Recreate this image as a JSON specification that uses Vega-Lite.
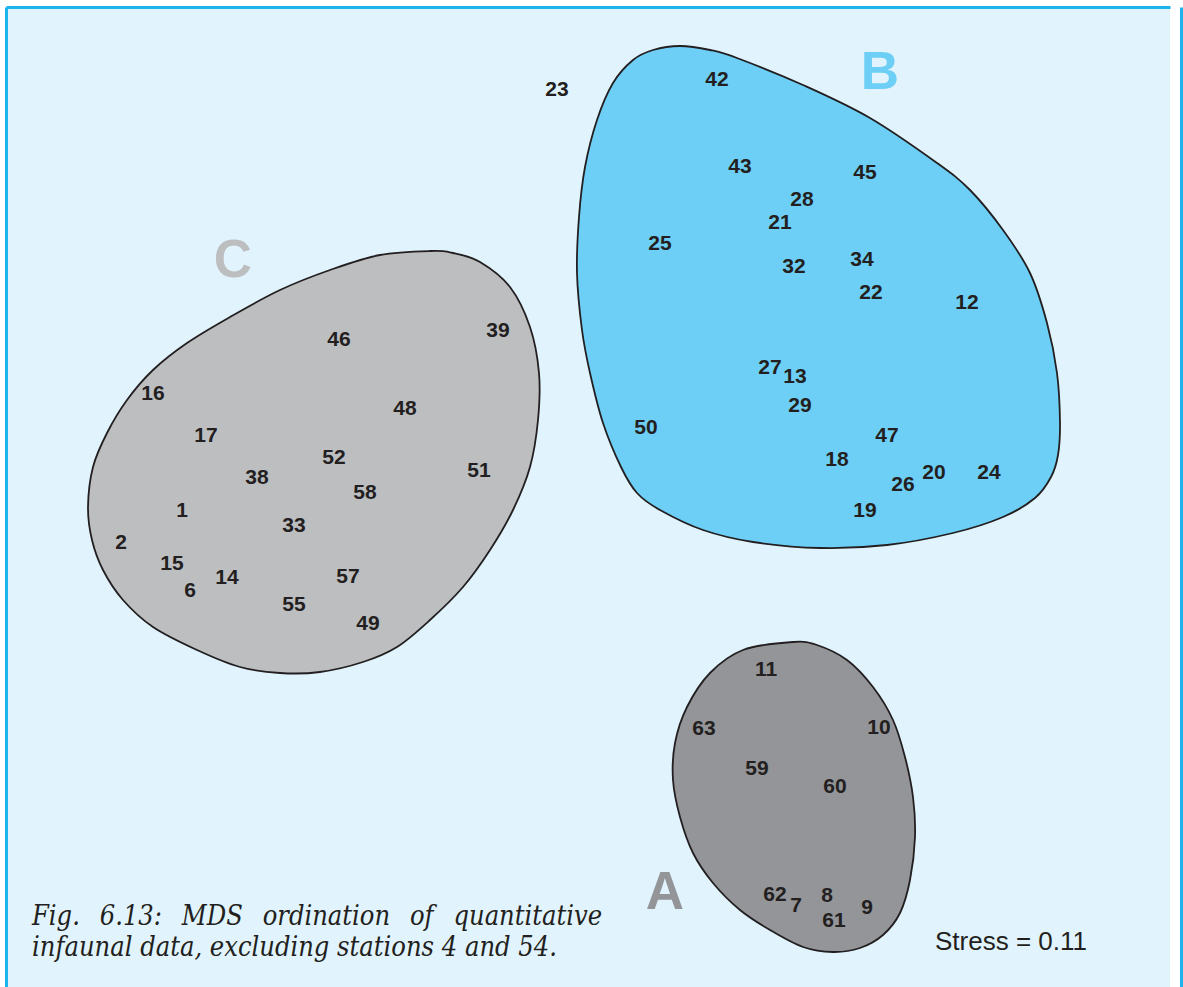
{
  "$schema": "https://vega.github.io/schema/vega-lite/v6.json",
  "width": 1164,
  "height": 980,
  "autosize": {"type": "none"},
  "padding": {"left": 6, "top": 7, "right": 13, "bottom": 0},
  "background": "#ffffff",
  "config": {"view": {"fill": "#e1f4fd", "stroke": null}},
  "datasets": {
    "outlines": [
      {"group": "B", "i": 1, "x": 680, "y": 46},
      {"group": "B", "i": 2, "x": 710, "y": 50},
      {"group": "B", "i": 3, "x": 737, "y": 58},
      {"group": "B", "i": 4, "x": 803, "y": 85},
      {"group": "B", "i": 5, "x": 870, "y": 118},
      {"group": "B", "i": 6, "x": 937, "y": 163},
      {"group": "B", "i": 7, "x": 970, "y": 190},
      {"group": "B", "i": 8, "x": 1003, "y": 230},
      {"group": "B", "i": 9, "x": 1030, "y": 273},
      {"group": "B", "i": 10, "x": 1047, "y": 323},
      {"group": "B", "i": 11, "x": 1057, "y": 373},
      {"group": "B", "i": 12, "x": 1060, "y": 423},
      {"group": "B", "i": 13, "x": 1058, "y": 455},
      {"group": "B", "i": 14, "x": 1051, "y": 477},
      {"group": "B", "i": 15, "x": 1035, "y": 498},
      {"group": "B", "i": 16, "x": 1003, "y": 517},
      {"group": "B", "i": 17, "x": 953, "y": 533},
      {"group": "B", "i": 18, "x": 887, "y": 545},
      {"group": "B", "i": 19, "x": 820, "y": 548},
      {"group": "B", "i": 20, "x": 753, "y": 542},
      {"group": "B", "i": 21, "x": 703, "y": 530},
      {"group": "B", "i": 22, "x": 660, "y": 510},
      {"group": "B", "i": 23, "x": 637, "y": 493},
      {"group": "B", "i": 24, "x": 621, "y": 467},
      {"group": "B", "i": 25, "x": 603, "y": 423},
      {"group": "B", "i": 26, "x": 590, "y": 373},
      {"group": "B", "i": 27, "x": 582, "y": 330},
      {"group": "B", "i": 28, "x": 577, "y": 273},
      {"group": "B", "i": 29, "x": 579, "y": 217},
      {"group": "B", "i": 30, "x": 585, "y": 167},
      {"group": "B", "i": 31, "x": 597, "y": 120},
      {"group": "B", "i": 32, "x": 613, "y": 83},
      {"group": "B", "i": 33, "x": 633, "y": 60},
      {"group": "B", "i": 34, "x": 653, "y": 50},
      {"group": "C", "i": 1, "x": 430, "y": 251},
      {"group": "C", "i": 2, "x": 453, "y": 253},
      {"group": "C", "i": 3, "x": 480, "y": 262},
      {"group": "C", "i": 4, "x": 510, "y": 287},
      {"group": "C", "i": 5, "x": 530, "y": 327},
      {"group": "C", "i": 6, "x": 539, "y": 373},
      {"group": "C", "i": 7, "x": 538, "y": 420},
      {"group": "C", "i": 8, "x": 530, "y": 467},
      {"group": "C", "i": 9, "x": 513, "y": 510},
      {"group": "C", "i": 10, "x": 490, "y": 550},
      {"group": "C", "i": 11, "x": 463, "y": 587},
      {"group": "C", "i": 12, "x": 430, "y": 620},
      {"group": "C", "i": 13, "x": 397, "y": 647},
      {"group": "C", "i": 14, "x": 363, "y": 662},
      {"group": "C", "i": 15, "x": 320, "y": 672},
      {"group": "C", "i": 16, "x": 280, "y": 673},
      {"group": "C", "i": 17, "x": 240, "y": 667},
      {"group": "C", "i": 18, "x": 197, "y": 650},
      {"group": "C", "i": 19, "x": 153, "y": 627},
      {"group": "C", "i": 20, "x": 123, "y": 600},
      {"group": "C", "i": 21, "x": 103, "y": 570},
      {"group": "C", "i": 22, "x": 92, "y": 540},
      {"group": "C", "i": 23, "x": 88, "y": 507},
      {"group": "C", "i": 24, "x": 93, "y": 467},
      {"group": "C", "i": 25, "x": 107, "y": 433},
      {"group": "C", "i": 26, "x": 127, "y": 400},
      {"group": "C", "i": 27, "x": 153, "y": 370},
      {"group": "C", "i": 28, "x": 187, "y": 343},
      {"group": "C", "i": 29, "x": 230, "y": 317},
      {"group": "C", "i": 30, "x": 280, "y": 290},
      {"group": "C", "i": 31, "x": 330, "y": 270},
      {"group": "C", "i": 32, "x": 380, "y": 255},
      {"group": "A", "i": 1, "x": 793, "y": 642},
      {"group": "A", "i": 2, "x": 817, "y": 645},
      {"group": "A", "i": 3, "x": 847, "y": 660},
      {"group": "A", "i": 4, "x": 873, "y": 687},
      {"group": "A", "i": 5, "x": 893, "y": 720},
      {"group": "A", "i": 6, "x": 905, "y": 757},
      {"group": "A", "i": 7, "x": 913, "y": 797},
      {"group": "A", "i": 8, "x": 915, "y": 837},
      {"group": "A", "i": 9, "x": 910, "y": 880},
      {"group": "A", "i": 10, "x": 900, "y": 913},
      {"group": "A", "i": 11, "x": 883, "y": 935},
      {"group": "A", "i": 12, "x": 860, "y": 948},
      {"group": "A", "i": 13, "x": 833, "y": 952},
      {"group": "A", "i": 14, "x": 803, "y": 947},
      {"group": "A", "i": 15, "x": 770, "y": 930},
      {"group": "A", "i": 16, "x": 740, "y": 910},
      {"group": "A", "i": 17, "x": 713, "y": 883},
      {"group": "A", "i": 18, "x": 693, "y": 853},
      {"group": "A", "i": 19, "x": 680, "y": 817},
      {"group": "A", "i": 20, "x": 673, "y": 780},
      {"group": "A", "i": 21, "x": 675, "y": 743},
      {"group": "A", "i": 22, "x": 687, "y": 707},
      {"group": "A", "i": 23, "x": 710, "y": 673},
      {"group": "A", "i": 24, "x": 743, "y": 650}
    ],
    "stations": [
      {"id": "23", "x": 557, "y": 90},
      {"id": "42", "x": 717, "y": 80},
      {"id": "43", "x": 740, "y": 167},
      {"id": "45", "x": 865, "y": 173},
      {"id": "28", "x": 802, "y": 200},
      {"id": "21", "x": 780, "y": 223},
      {"id": "25", "x": 660, "y": 244},
      {"id": "32", "x": 794, "y": 267},
      {"id": "34", "x": 862, "y": 260},
      {"id": "22", "x": 871, "y": 293},
      {"id": "12", "x": 967, "y": 303},
      {"id": "27", "x": 770, "y": 368},
      {"id": "13", "x": 795, "y": 377},
      {"id": "29", "x": 800, "y": 406},
      {"id": "50", "x": 646, "y": 428},
      {"id": "47", "x": 887, "y": 436},
      {"id": "18", "x": 837, "y": 460},
      {"id": "26", "x": 903, "y": 485},
      {"id": "20", "x": 934, "y": 473},
      {"id": "24", "x": 989, "y": 473},
      {"id": "19", "x": 865, "y": 511},
      {"id": "39", "x": 498, "y": 331},
      {"id": "46", "x": 339, "y": 340},
      {"id": "16", "x": 153, "y": 394},
      {"id": "48", "x": 405, "y": 409},
      {"id": "17", "x": 206, "y": 436},
      {"id": "52", "x": 334, "y": 458},
      {"id": "38", "x": 257, "y": 478},
      {"id": "51", "x": 479, "y": 471},
      {"id": "58", "x": 365, "y": 493},
      {"id": "1", "x": 182, "y": 511},
      {"id": "33", "x": 294, "y": 526},
      {"id": "2", "x": 121, "y": 543},
      {"id": "15", "x": 172, "y": 564},
      {"id": "14", "x": 227, "y": 578},
      {"id": "57", "x": 348, "y": 577},
      {"id": "6", "x": 190, "y": 591},
      {"id": "55", "x": 294, "y": 605},
      {"id": "49", "x": 368, "y": 624},
      {"id": "11", "x": 766, "y": 670},
      {"id": "63", "x": 704, "y": 729},
      {"id": "10", "x": 879, "y": 728},
      {"id": "59", "x": 757, "y": 769},
      {"id": "60", "x": 835, "y": 787},
      {"id": "62", "x": 775, "y": 895},
      {"id": "7", "x": 796, "y": 906},
      {"id": "8", "x": 827, "y": 896},
      {"id": "61", "x": 834, "y": 921},
      {"id": "9", "x": 867, "y": 908}
    ],
    "groups": [
      {"group": "A", "x": 665, "y": 893},
      {"group": "B", "x": 880, "y": 73},
      {"group": "C", "x": 233, "y": 261}
    ]
  },
  "resolve": {"axis": {"y": "independent"}},
  "layer": [
    {
      "data": {"name": "outlines"},
      "mark": {"type": "line", "interpolate": "cardinal-closed", "stroke": "#231f20", "strokeWidth": 1.8},
      "encoding": {
        "x": {"field": "x", "type": "quantitative", "scale": {"domain": [6, 1170], "nice": false, "zero": false},
              "axis": {"orient": "top", "labels": false, "ticks": false, "grid": false, "title": null, "domainColor": "#1cb4ea", "domainWidth": 3}},
        "y": {"field": "y", "type": "quantitative", "scale": {"domain": [7, 987], "reverse": true, "nice": false, "zero": false},
              "axis": {"orient": "left", "labels": false, "ticks": false, "grid": false, "title": null, "domainColor": "#1cb4ea", "domainWidth": 3}},
        "fill": {"field": "group", "type": "nominal", "scale": {"domain": ["A", "B", "C"], "range": ["#939598", "#6dcff6", "#bcbec0"]}, "legend": null},
        "order": {"field": "i", "type": "quantitative"}
      }
    },
    {
      "data": {"name": "stations"},
      "mark": {"type": "text", "font": "Liberation Sans", "fontWeight": "bold", "fontSize": 21, "color": "#231f20", "align": "center", "baseline": "middle"},
      "encoding": {
        "x": {"field": "x", "type": "quantitative"},
        "y": {"field": "y", "type": "quantitative", "axis": null},
        "text": {"field": "id", "type": "nominal"}
      }
    },
    {
      "data": {"name": "groups"},
      "mark": {"type": "text", "font": "Liberation Sans", "fontWeight": "bold", "fontSize": 53, "align": "center", "baseline": "middle"},
      "encoding": {
        "x": {"field": "x", "type": "quantitative"},
        "y": {"field": "y", "type": "quantitative", "axis": null},
        "text": {"field": "group", "type": "nominal"},
        "color": {"field": "group", "type": "nominal", "scale": {"domain": ["A", "B", "C"], "range": ["#939598", "#6dcff6", "#bcbec0"]}, "legend": null}
      }
    },
    {
      "data": {"values": [{"line": "Fig. \u20026.13: \u2002MDS \u2002ordination \u2002of \u2002quantitative", "x": 32, "y": 925}, {"line": "infaunal data, excluding stations 4 and 54.", "x": 32, "y": 956}]},
      "mark": {"type": "text", "font": "DejaVu Serif Condensed, DejaVu Serif", "fontStyle": "italic", "fontSize": 27, "color": "#231f20", "align": "left", "baseline": "alphabetic"},
      "encoding": {
        "x": {"field": "x", "type": "quantitative"},
        "y": {"field": "y", "type": "quantitative", "axis": null},
        "text": {"field": "line", "type": "nominal"}
      }
    },
    {
      "data": {"values": [{"label": "Stress = 0.11", "x": 935, "y": 950}]},
      "mark": {"type": "text", "font": "Liberation Sans", "fontSize": 26, "color": "#231f20", "align": "left", "baseline": "alphabetic"},
      "encoding": {
        "x": {"field": "x", "type": "quantitative"},
        "y": {"field": "y", "type": "quantitative",
              "axis": {"orient": "right", "offset": 11, "labels": false, "ticks": false, "grid": false, "title": null, "domainColor": "#1cb4ea", "domainWidth": 3}},
        "text": {"field": "label", "type": "nominal"}
      }
    }
  ]
}
